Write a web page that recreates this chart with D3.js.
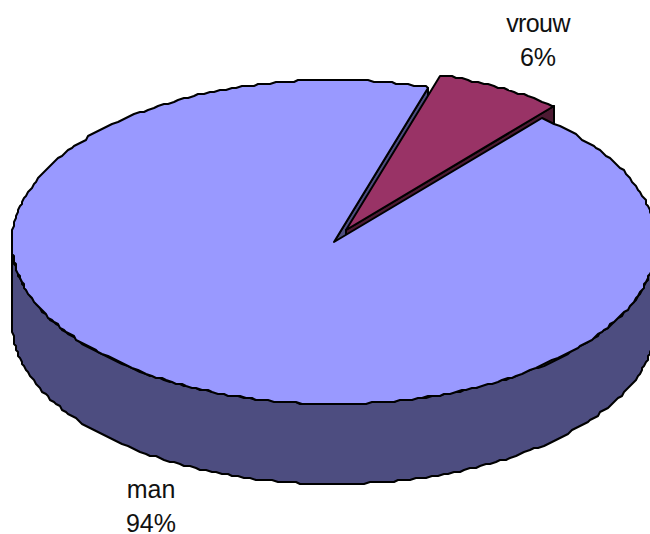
<!DOCTYPE html>
<html>
<head>
<meta charset="utf-8">
<script src="https://cdn.jsdelivr.net/npm/d3@7"></script>
<style>
  html, body { margin: 0; padding: 0; background: #fff; overflow: hidden; }
  svg { display: block; }
  text { font-family: "Liberation Sans", Arial, sans-serif; font-size: 25px; fill: #111; text-anchor: middle; }
</style>
</head>
<body>
<svg></svg>
<script>
// data (the wedge is a bit over 6%, the label rounds it)
const categories = ['vrouw', 'man'];
const values = [6.45, 93.55];
const topColors = ['#993366', '#9999FF'];
const sideColors = ['#4D1A33', '#4D4D80'];

const svg = d3.select('svg').attr('width', 650).attr('height', 534);

// unit circle -> tilted ellipse
const x = d3.scaleLinear().domain([-1, 1]).range([12, 656]);
const y = d3.scaleLinear().domain([-1, 1]).range([80, 404]);
const depth = 80;
const explode = { dx: 12, dy: -12 };

const pie = d3.pie().sort(null).startAngle(17 * Math.PI / 180).endAngle(377 * Math.PI / 180);
const slices = pie(values);

// px position on the rim, snapped to a 2px grid like the original's rough outline
const rim = (a, off) => [
  Math.round(x(Math.sin(a)) / 2) * 2 + off.dx,
  Math.round(y(-Math.cos(a)) / 2) * 2 + off.dy
];
const arcPoints = (a0, a1, off) =>
  d3.range(a0, a1, 0.018).concat([a1]).map(a => rim(a, off));

const line = d3.line();
const stroke = sel => sel.attr('stroke', '#000').attr('stroke-width', 2).attr('stroke-linejoin', 'round');

const man = slices[1], vrouw = slices[0];
const none = { dx: 0, dy: 0 };
const down = { dx: 0, dy: depth };
const apex = off => [x(0) + off.dx, y(0) + off.dy];

// man: outer wall, only the front half shows
const frontPts = arcPoints(Math.PI / 2, 3 * Math.PI / 2, none);
const frontDown = arcPoints(Math.PI / 2, 3 * Math.PI / 2, down).reverse();
svg.append('path')
  .attr('d', line(frontPts.concat(frontDown)) + 'Z')
  .attr('fill', sideColors[1])
  .call(stroke);

// man: cut wall seen through the notch
const manEdge = rim(man.endAngle, none);
svg.append('path')
  .attr('d', line([apex(none), manEdge, [manEdge[0], manEdge[1] + depth], [apex(none)[0], apex(none)[1] + depth]]) + 'Z')
  .attr('fill', sideColors[1])
  .call(stroke);

// vrouw: exploded wedge, right-hand wall then outer wall
const wOff = explode;
const wEnd = rim(vrouw.endAngle, wOff);
svg.append('path')
  .attr('d', line([apex(wOff), wEnd, [wEnd[0], wEnd[1] + depth], [apex(wOff)[0], apex(wOff)[1] + depth]]) + 'Z')
  .attr('fill', sideColors[0])
  .call(stroke);

// vrouw: top
svg.append('path')
  .attr('d', line([apex(wOff)].concat(arcPoints(vrouw.startAngle, vrouw.endAngle, wOff))) + 'Z')
  .attr('fill', topColors[0])
  .call(stroke);

// man: top, painted last so it hides the lower part of the wedge wall
svg.append('path')
  .attr('d', line([apex(none)].concat(arcPoints(man.startAngle, man.endAngle, none))) + 'Z')
  .attr('fill', topColors[1])
  .call(stroke);

// labels
const labelX = [538, 151];
const labelY = [32, 498];
categories.forEach((c, i) => {
  svg.append('text').attr('x', labelX[i]).attr('y', labelY[i])
    .attr('letter-spacing', i === 0 ? -0.6 : 0)
    .text(c);
  svg.append('text').attr('x', labelX[i]).attr('y', labelY[i] + 34).text(Math.round(values[i]) + '%');
});
</script>
</body>
</html>
